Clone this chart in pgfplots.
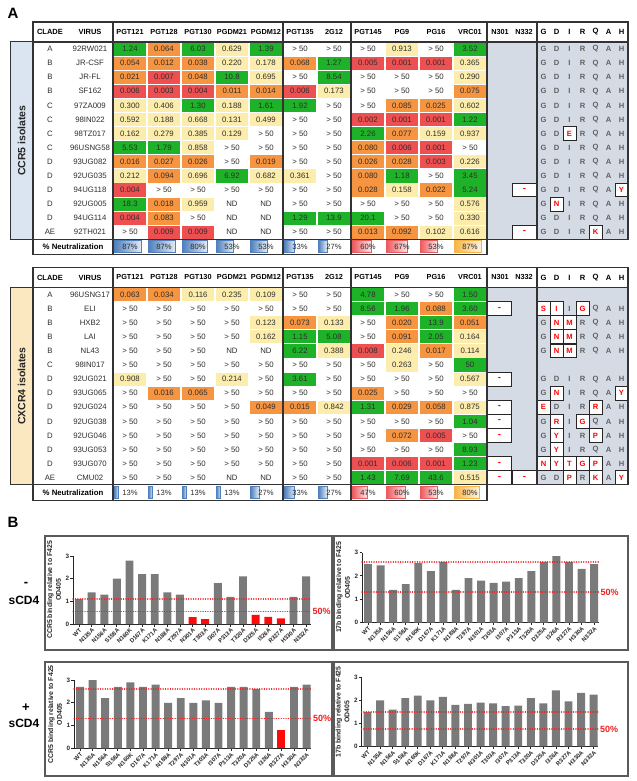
\documentclass[border=0pt]{standalone}
\usepackage{pgfplots}
\pgfplotsset{compat=1.18}
\usepackage{fontspec}
\setmainfont{Liberation Sans}

\definecolor{cred}{RGB}{238,80,82}
\definecolor{corange}{RGB}{246,148,64}
\definecolor{cyellow}{RGB}{253,237,172}
\definecolor{cgreen}{RGB}{30,178,40}
\definecolor{cgray}{RGB}{213,219,228}
\definecolor{csideb}{RGB}{219,229,241}
\definecolor{csidey}{RGB}{252,232,192}
\definecolor{pblue}{RGB}{80,128,190}
\definecolor{pred}{RGB}{235,90,95}
\definecolor{porange}{RGB}{247,180,70}
\definecolor{bgray}{RGB}{122,122,122}
\definecolor{bred}{RGB}{255,10,10}
\definecolor{lred}{RGB}{240,30,30}
\definecolor{txt}{RGB}{45,45,45}
\definecolor{frm}{RGB}{90,90,90}

\newcommand{\fs}[2]{\fontsize{#1bp}{#2bp}\selectfont}
\newcommand{\ytop}{49}
\newcommand{\rp}{14.1}
\newcommand{\py}{246.7}
\newcommand{\cellbox}[1]{\fill[#1] ({\xc-16.3},{\ry-6.6}) rectangle ({\xc+16.3},{\ry+6.6});}
\newcommand{\cellnum}[1]{\node[font=\fs{7.8}{9}, text=txt] at (\xc,\ry) {#1};}
\newcommand{\trow}[4]{%
  \pgfmathsetmacro\ry{\ytop+\rp*(#1-1)}%
  \node[font=\fs{7.8}{9}, text=txt] at (50,\ry) {#2};%
  \node[font=\fs{7.8}{9}, text=txt] at (90,\ry) {#3};%
  \foreach \v [count=\i from 0] in {#4} {%
    \pgfmathsetmacro\xc{130+34*\i}%
    \pgfmathtruncatemacro\cc{(\v<0) ? 5 : ((\v>900) ? 0 : ((\v<0.01) ? 1 : ((\v<0.1) ? 2 : ((\v<1) ? 3 : 4))))}%
    \ifcase\cc \cellnum{> 50}%
    \or \cellbox{cred}\cellnum{\v}%
    \or \cellbox{corange}\cellnum{\v}%
    \or \cellbox{cyellow}\cellnum{\v}%
    \or \cellbox{cgreen}\cellnum{\v}%
    \or \cellnum{ND}%
    \fi
  }%
}
\newcommand{\seq}[2]{%
  \pgfmathsetmacro\ry{\ytop+\rp*(#1-1)}%
  \foreach \ltr/\mut [count=\kk from 0] in {#2} {%
    \pgfmathsetmacro\xc{543.5+13*\kk}%
    \ifnum\mut=1
      \draw[fill=white, line width=0.9bp, draw=black!85] ({\xc-6.5},{\ry-6.9}) rectangle ({\xc+6.5},{\ry+6.9});
      \node[font=\bfseries\fs{7.6}{9}, text=red] at (\xc,\ry) {\ltr};
    \else
      \node[font=\bfseries\fs{7.6}{9}, text=black!62] at (\xc,\ry) {\ltr};
    \fi
  }%
}
\newcommand{\dbox}[2]{%
  \pgfmathsetmacro\ry{\ytop+\rp*(#1-1)}%
  \pgfmathsetmacro\xc{499.5+25*#2}%
  \draw[fill=white, line width=0.9bp, draw=black!85] ({\xc-12.3},{\ry-6.9}) rectangle ({\xc+12.3},{\ry+6.9});
  \node[font=\bfseries\fs{9.5}{10}, text=red] at (\xc,\ry) {-};}
\newcommand{\pcell}[3]{%
  \pgfmathsetmacro\xa{113+34*#1+1.5}%
  \pgfmathsetmacro\xb{\xa+31*#2/100}%
  \shade[left color=#3, right color=#3!15] (\xa,{\py-6}) rectangle (\xb,{\py+6});
  \draw[#3, line width=0.6bp] (\xa,{\py-6}) rectangle (\xb,{\py+6});
  \node[font=\fs{7.6}{9}, text=txt] at ({130+34*#1},\py) {#2\%};}
\newcommand{\tbg}[2]{%
  \pgfmathsetmacro\hbot{\ytop-7.05}%
  \pgfmathsetmacro\rbot{\ytop+\rp*13+7.05}%
  \fill[cgray] (487,\hbot) rectangle (628,\rbot);
  \fill[#1] (10,\hbot) rectangle (33,\rbot);
  \draw[line width=1bp, black!80] (10,\hbot) rectangle (33,\rbot);
  \node[rotate=90, font=\bfseries\fs{10.5}{12}, text=black!85] at (21.5,{(\hbot+\rbot)/2}) {#2};}
\newcommand{\tlines}{%
  \pgfmathsetmacro\hbot{\ytop-7.05}%
  \pgfmathsetmacro\htp{\hbot-20}%
  \pgfmathsetmacro\hcen{\hbot-10}%
  \pgfmathsetmacro\rbot{\ytop+\rp*13+7.05}%
  \pgfmathsetmacro\pbot{\rbot+15.5}%
  \begin{scope}[line width=1.1bp, black!80]
  \draw (33,\htp) rectangle (628,\rbot);
  \draw (33,\hbot) -- (628,\hbot);
  \foreach \x in {113,283,351,487} \draw (\x,\htp) -- (\x,\pbot);
  \draw (537,\htp) -- (537,\rbot);
  \draw (33,\rbot) rectangle (487,\pbot);
  \end{scope}
  \node[font=\bfseries\fs{7.5}{9}] at (50,\hcen) {CLADE};
  \node[font=\bfseries\fs{7.5}{9}] at (90,\hcen) {VIRUS};
  \foreach \h [count=\i from 0] in {PGT121,PGT128,PGT130,PGDM21,PGDM12,PGT135,2G12,PGT145,PG9,PG16,VRC01}
    \node[font=\bfseries\fs{7.3}{9}] at ({130+34*\i},\hcen) {\h};
  \node[font=\bfseries\fs{7.3}{9}] at (500,\hcen) {N301};
  \node[font=\bfseries\fs{7.3}{9}] at (524,\hcen) {N332};
  \foreach \h [count=\i from 0] in {G,D,I,R,Q,A,H}
    \node[font=\bfseries\fs{7.6}{9}] at ({543.5+13*\i},\hcen) {\h};
  \node[font=\bfseries\fs{7.8}{9}] at (73,{(\rbot+\pbot)/2}) {\% Neutralization};
}

\pgfplotsset{
  gp/.style={
    scale only axis, anchor=south west, clip=false,
    xmin=-0.48, xmax=18.35, ymin=0, ymax=3,
    axis x line*=bottom, axis y line*=left,
    axis line style={line width=1bp, black!85, -},
    tick style={line width=0.8bp, black!85},
    tick align=outside, major tick length=2.5bp,
    /pgf/number format/assume math mode=true,
    xtick={0,...,18},
    xticklabels={WT,N135A,N156A,S158A,N160K,D167A,K171A,N188A,T297A,N301A,T303A,I307A,P313A,T320A,D325A,I326A,R327A,H330A,N332A},
    x tick label style={rotate=45, anchor=north east, font=\bfseries\fs{5.9}{6}, inner sep=0.8bp, text=black!85},
    ytick={0,1,2,3},
    y tick label style={font=\bfseries\fs{6.3}{7}, inner sep=1.2bp, text=black!85},
    ylabel style={align=center, font=\bfseries\fs{6.9}{8.8}, text=black!85},
  },
  gbar/.style={ybar, bar shift=0pt, bar width=0.63, fill=bgray, draw=none},
  rbar/.style={ybar, bar shift=0pt, bar width=0.63, fill=bred, draw=none},
}
\tikzset{refl/.style={draw=lred, line width=1.5bp, line cap=round, dash pattern=on 0.01bp off 2.4bp}}
\newcommand{\reflines}[2]{%
  \draw[refl] (axis cs:-0.48,#1) -- (axis cs:18.35,#1);
  \draw[refl] (axis cs:-0.48,#2) -- (axis cs:18.35,#2);
  \node[anchor=west, text=lred, font=\bfseries\fs{9}{10}, inner sep=2bp] at (axis cs:18.35,#2) {50\%};}

\begin{document}
\begin{tikzpicture}
\useasboundingbox (0,0) rectangle (637bp,-781bp);
\begin{scope}[x=1bp,y=-1bp]
\node[font=\bfseries\fs{15}{16}] at (13,13) {A};
\node[font=\bfseries\fs{15}{16}] at (13,522) {B};
% ---------------- top table (CCR5) ----------------
\renewcommand{\ytop}{49}
\renewcommand{\py}{246.7}
\tbg{csideb}{CCR5 isolates}
\trow{1}{A}{92RW021}{1.24,0.064,6.03,0.629,1.39,999,999,999,0.913,999,3.52}
\trow{2}{B}{JR-CSF}{0.054,0.012,0.038,0.220,0.178,0.068,1.27,0.005,0.001,0.001,0.365}
\trow{3}{B}{JR-FL}{0.021,0.007,0.048,10.8,0.695,999,8.54,999,999,999,0.290}
\trow{4}{B}{SF162}{0.006,0.003,0.004,0.011,0.014,0.006,0.173,999,999,999,0.075}
\trow{5}{C}{97ZA009}{0.300,0.406,1.30,0.188,1.61,1.92,999,999,0.085,0.025,0.602}
\trow{6}{C}{98IN022}{0.592,0.188,0.668,0.131,0.499,999,999,0.002,0.001,0.001,1.22}
\trow{7}{C}{98TZ017}{0.162,0.279,0.385,0.129,999,999,999,2.26,0.077,0.159,0.937}
\trow{8}{C}{96USNG58}{5.53,1.79,0.858,999,999,999,999,0.080,0.006,0.001,999}
\trow{9}{D}{93UG082}{0.016,0.027,0.026,999,0.019,999,999,0.026,0.028,0.003,0.226}
\trow{10}{D}{92UG035}{0.212,0.094,0.696,6.92,0.682,0.361,999,0.080,1.18,999,3.45}
\trow{11}{D}{94UG118}{0.004,999,999,999,999,999,999,0.028,0.158,0.022,5.24}
\trow{12}{D}{92UG005}{18.3,0.018,0.959,-1,-1,999,999,999,999,999,0.576}
\trow{13}{D}{94UG114}{0.004,0.083,999,-1,-1,1.29,13.9,20.1,999,999,0.330}
\trow{14}{AE}{92TH021}{999,0.009,0.009,-1,-1,999,999,0.013,0.092,0.102,0.616}
\seq{1}{G/0,D/0,I/0,R/0,Q/0,A/0,H/0}
\seq{2}{G/0,D/0,I/0,R/0,Q/0,A/0,H/0}
\seq{3}{G/0,D/0,I/0,R/0,Q/0,A/0,H/0}
\seq{4}{G/0,D/0,I/0,R/0,Q/0,A/0,H/0}
\seq{5}{G/0,D/0,I/0,R/0,Q/0,A/0,H/0}
\seq{6}{G/0,D/0,I/0,R/0,Q/0,A/0,H/0}
\seq{7}{G/0,D/0,E/1,R/0,Q/0,A/0,H/0}
\seq{8}{G/0,D/0,I/0,R/0,Q/0,A/0,H/0}
\seq{9}{G/0,D/0,I/0,R/0,Q/0,A/0,H/0}
\seq{10}{G/0,D/0,I/0,R/0,Q/0,A/0,H/0}
\seq{11}{G/0,D/0,I/0,R/0,Q/0,A/0,Y/1}
\seq{12}{G/0,N/1,I/0,R/0,Q/0,A/0,H/0}
\seq{13}{G/0,D/0,I/0,R/0,Q/0,A/0,H/0}
\seq{14}{G/0,D/0,I/0,R/0,K/1,A/0,H/0}
\dbox{11}{1}
\dbox{14}{1}
\pcell{0}{87}{pblue}\pcell{1}{87}{pblue}\pcell{2}{80}{pblue}\pcell{3}{53}{pblue}
\pcell{4}{53}{pblue}\pcell{5}{33}{pblue}\pcell{6}{27}{pblue}
\pcell{7}{60}{pred}\pcell{8}{67}{pred}\pcell{9}{53}{pred}\pcell{10}{87}{porange}
\tlines
% ---------------- bottom table (CXCR4) ----------------
\renewcommand{\ytop}{294.5}
\renewcommand{\py}{492.4}
\tbg{csidey}{CXCR4 isolates}
\trow{1}{A}{96USNG17}{0.063,0.034,0.116,0.235,0.109,999,999,4.78,999,999,1.50}
\trow{2}{B}{ELI}{999,999,999,999,999,999,999,8.56,1.96,0.088,3.60}
\trow{3}{B}{HXB2}{999,999,999,999,0.123,0.073,0.133,999,0.020,13.9,0.051}
\trow{4}{B}{LAI}{999,999,999,999,0.162,1.15,5.08,999,0.091,2.05,0.164}
\trow{5}{B}{NL43}{999,999,999,-1,-1,6.22,0.388,0.008,0.246,0.017,0.114}
\trow{6}{C}{98IN017}{999,999,999,999,999,999,999,999,0.263,999,50}
\trow{7}{D}{92UG021}{0.908,999,999,0.214,999,3.61,999,999,999,999,0.567}
\trow{8}{D}{93UG065}{999,0.016,0.065,999,999,999,999,0.025,999,999,999}
\trow{9}{D}{92UG024}{999,999,999,999,0.049,0.015,0.842,1.31,0.029,0.058,0.875}
\trow{10}{D}{92UG038}{999,999,999,999,999,999,999,999,999,999,1.04}
\trow{11}{D}{92UG046}{999,999,999,999,999,999,999,999,0.072,0.005,999}
\trow{12}{D}{93UG053}{999,999,999,999,999,999,999,999,999,999,8.93}
\trow{13}{D}{93UG070}{999,999,999,999,999,999,999,0.001,0.006,0.001,1.23}
\trow{14}{AE}{CMU02}{999,999,999,-1,-1,999,999,1.43,7.69,43.6,0.515}
\seq{2}{S/1,I/1,I/0,G/1,Q/0,A/0,H/0}
\seq{3}{G/0,N/1,M/1,R/0,Q/0,A/0,H/0}
\seq{4}{G/0,N/1,M/1,R/0,Q/0,A/0,H/0}
\seq{5}{G/0,N/1,M/1,R/0,Q/0,A/0,H/0}
\seq{7}{G/0,D/0,I/0,R/0,Q/0,A/0,H/0}
\seq{8}{G/0,N/1,I/0,R/0,Q/0,A/0,Y/1}
\seq{9}{E/1,D/0,I/0,R/0,R/1,A/0,H/0}
\seq{10}{G/0,R/1,I/0,G/1,Q/0,A/0,H/0}
\seq{11}{G/0,Y/1,I/0,R/0,P/1,A/0,H/0}
\seq{12}{G/0,Y/1,I/0,R/0,Q/0,A/0,H/0}
\seq{13}{N/1,Y/1,T/1,G/1,P/1,A/0,H/0}
\seq{14}{G/0,D/0,P/1,R/0,K/1,A/0,Y/1}
\dbox{2}{0}\dbox{7}{0}\dbox{9}{0}\dbox{10}{0}\dbox{11}{0}\dbox{13}{0}\dbox{14}{0}\dbox{14}{1}
\pcell{0}{13}{pblue}\pcell{1}{13}{pblue}\pcell{2}{13}{pblue}\pcell{3}{13}{pblue}
\pcell{4}{27}{pblue}\pcell{5}{33}{pblue}\pcell{6}{27}{pblue}
\pcell{7}{47}{pred}\pcell{8}{60}{pred}\pcell{9}{53}{pred}\pcell{10}{80}{porange}
\tlines
% ---------------- panel B frames and side labels ----------------
\begin{scope}[line width=1.1bp, frm]
\draw (45,536) rectangle (332,650);
\draw (334,536) rectangle (628,650);
\draw (45,662) rectangle (332,776);
\draw (334,662) rectangle (628,776);
\end{scope}
\node[font=\bfseries\fs{13}{14}] at (26,584) {-};
\node[font=\bfseries\fs{12}{13}] at (24,600) {sCD4};
\node[font=\bfseries\fs{13}{14}] at (26,708) {+};
\node[font=\bfseries\fs{12}{13}] at (24,723) {sCD4};
\end{scope}

% ---------------- top left: CCR5, - sCD4 ----------------
\begin{axis}[gp, at={(73bp,-624bp)}, width=237.5bp, height=68bp,
  ylabel={CCR5 binding relative to F425\\OD405}]
\addplot[gbar] coordinates {(0,1.1)(1,1.4)(2,1.3)(3,2.0)(4,2.8)(5,2.2)(6,2.2)(7,1.4)(8,1.3)(11,1.8)(12,1.2)(13,2.1)(17,1.2)(18,2.1)};
\addplot[rbar] coordinates {(9,0.3)(10,0.22)(14,0.4)(15,0.32)(16,0.25)};
\reflines{1.1}{0.55}
\end{axis}

% ---------------- top right: 17b, - sCD4 ----------------
\begin{axis}[gp, at={(362bp,-622.5bp)}, width=236.5bp, height=70bp,
  ylabel={17b binding relative to F425\\OD405}]
\addplot[gbar] coordinates {(0,2.5)(1,2.45)(2,1.4)(3,1.65)(4,2.55)(5,2.2)(6,2.6)(7,1.4)(8,1.9)(9,1.8)(10,1.7)(11,1.75)(12,1.9)(13,2.2)(14,2.6)(15,2.85)(16,2.6)(17,2.3)(18,2.5)};
\reflines{2.6}{1.3}
\end{axis}

% ---------------- bottom left: CCR5, + sCD4 ----------------
\begin{axis}[gp, at={(74bp,-748.3bp)}, width=237bp, height=68.3bp,
  ylabel={CCR5 binding relative to F425\\OD405}]
\addplot[gbar] coordinates {(0,2.7)(1,3.0)(2,2.2)(3,2.7)(4,2.9)(5,2.7)(6,2.8)(7,2.0)(8,2.2)(9,2.0)(10,2.1)(11,2.0)(12,2.7)(13,2.7)(14,2.6)(15,1.6)(17,2.7)(18,2.8)};
\addplot[rbar] coordinates {(16,0.8)};
\reflines{2.6}{1.3}
\end{axis}

% ---------------- bottom right: 17b, + sCD4 ----------------
\begin{axis}[gp, at={(361.5bp,-746.3bp)}, width=236.5bp, height=69bp,
  ylabel={17b binding relative to F425\\OD405}]
\addplot[gbar] coordinates {(0,1.5)(1,2.0)(2,1.6)(3,2.1)(4,2.2)(5,2.0)(6,2.15)(7,1.8)(8,1.85)(9,1.9)(10,1.87)(11,1.75)(12,1.77)(13,2.1)(14,1.87)(15,2.43)(16,1.95)(17,2.32)(18,2.25)};
\reflines{1.5}{0.75}
\end{axis}
\end{tikzpicture}
\end{document}
